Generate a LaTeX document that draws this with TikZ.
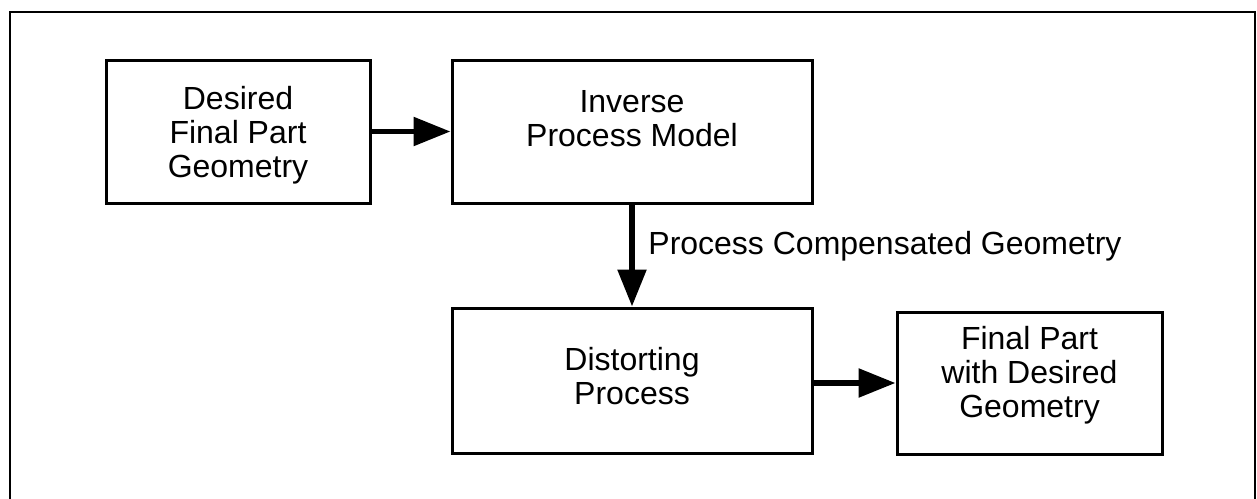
\documentclass[tikz,border=0pt]{standalone}
\usepackage{fontspec}
\setmainfont{Liberation Sans}
\usetikzlibrary{arrows.meta,calc}
\begin{document}
\begin{tikzpicture}[x=0.5pt,y=-0.5pt,
  box/.style={draw,line width=1.5pt,inner sep=0pt,minimum height=71.5pt},
  lbl/.style={align=center,inner sep=0pt,font=\fontsize{16pt}{17pt}\selectfont},
  flow/.style={line width=2.8pt,-{Triangle[length=18.5pt,width=14pt]}}]
\useasboundingbox (0,0) rectangle (1257,498);
\clip (0,0) rectangle (1257,498);
\draw[line width=1.3pt] (10,530) -- (10,12) -- (1255,12) -- (1255,530);
\node[box,minimum width=132pt] (b1) at (238,131.5) {};
\node[box,minimum width=180pt] (b2) at (632,131.5) {};
\node[box,minimum width=180pt,minimum height=72.5pt] (b3) at (632,380.5) {};
\node[box,minimum width=132.5pt,minimum height=71pt] (b4) at (1029.5,383) {};
\node[lbl] (t1) at (238,135) {Desired\\Final Part\\Geometry};
\node[lbl] (t2) at (632,119) {Inverse\\Process Model};
\node[lbl] (t3) at (632,376) {Distorting\\Process};
\node[lbl] (t4) at (1029.5,375) {Final Part\\with Desired\\Geometry};
\node[lbl,anchor=west] (t5) at (648,246) {Process Compensated Geometry};
\draw[flow] (b1.east) -- (b2.west);
\draw[flow] (b2.south) -- (b3.north);
\draw[flow] (b3.east |- b4.west) -- (b4.west);
\end{tikzpicture}
\end{document}
